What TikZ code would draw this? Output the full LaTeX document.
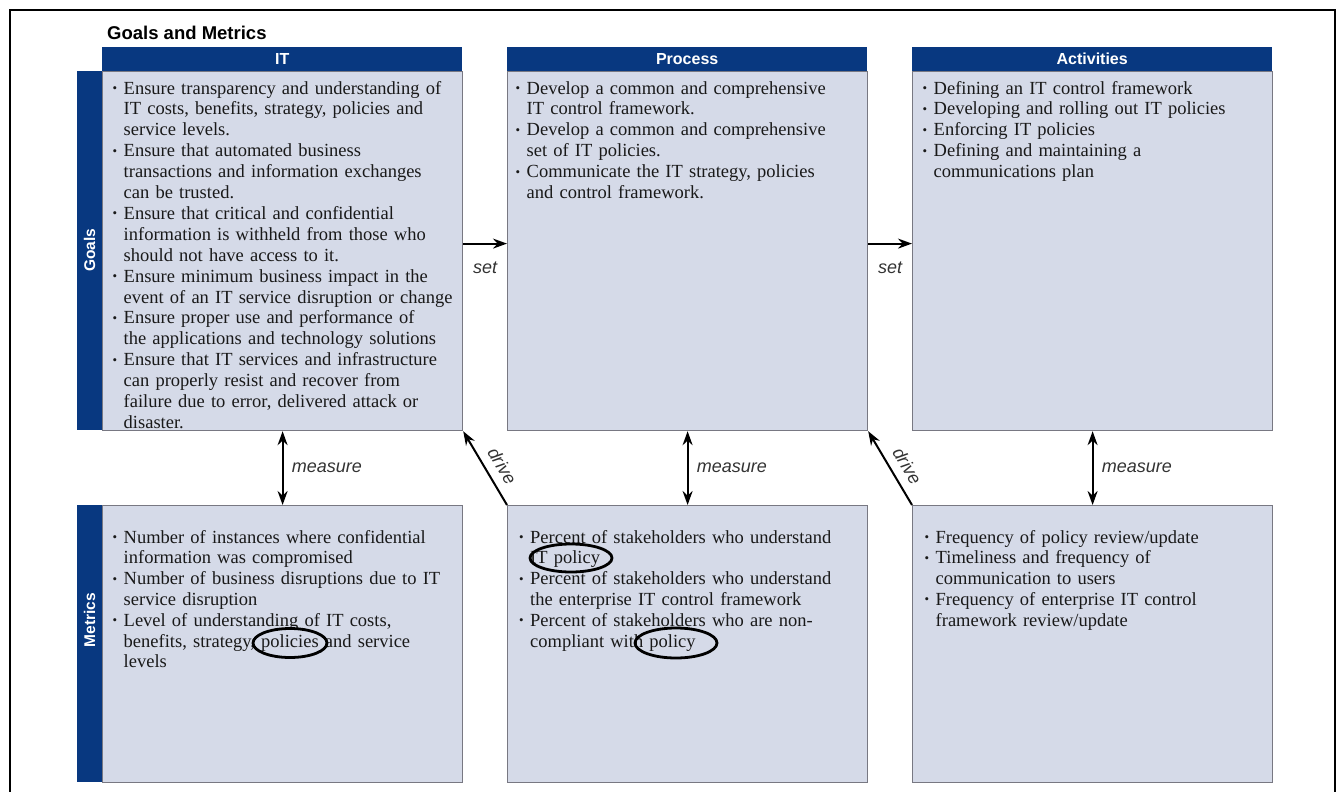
\documentclass[tikz,border=0pt]{standalone}
\usepackage{fontspec}
\setmainfont{Liberation Serif}
\setsansfont{Liberation Sans}
\usepackage{xcolor}
\usetikzlibrary{arrows.meta}

\definecolor{hdrblue}{RGB}{8,56,128}
\definecolor{cardfill}{RGB}{213,218,232}
\definecolor{cardline}{RGB}{120,120,130}

% bullet with hanging indent
\newcommand{\bitem}{\par\hangindent=11pt\hangafter=1\noindent\hbox to 11pt{\raisebox{1.6pt}{\scalebox{0.7}{\textbullet}}\hfil}}

\tikzset{
	card/.style={draw=cardline, line width=1.2pt, fill=cardfill, anchor=north west, minimum width=360pt, inner sep=0},
	hdr/.style={fill=hdrblue, anchor=north west, minimum width=360pt, minimum height=24pt, inner sep=0, text=white, font=\sffamily\bfseries\fontsize{16}{16}\selectfont},
	sidebar/.style={fill=hdrblue, anchor=north west, minimum width=25pt, inner sep=0},
	barlbl/.style={rotate=90, text=white, font=\sffamily\bfseries\fontsize{15.5}{15.5}\selectfont},
	blist/.style={anchor=north west, inner sep=0, text width=352pt, align=left, text=black!90, font=\fontsize{18.5}{20.9}\selectfont},
	mlist/.style={blist, font=\fontsize{18.5}{20.8}\selectfont},
	arr/.style={line width=2pt, -{Stealth[length=14pt,width=10pt]}},
	arrtwo/.style={line width=2pt, {Stealth[length=14pt,width=10pt]}-{Stealth[length=14pt,width=10pt]}},
	lbl/.style={font=\sffamily\itshape\fontsize{18}{18}\selectfont, text=black!80},
	ring/.style={draw, line width=2.8pt}
}

\begin{document}
\begin{tikzpicture}[x=1pt, y=-1pt]
	\useasboundingbox (0,0) rectangle (1338,792);
	
	% frame and title
	\draw[line width=2pt] (10,810) -- (10,10) -- (1335,10) -- (1335,810);
	\node[anchor=west, inner sep=0, font=\sffamily\bfseries\fontsize{18.5}{18.5}\selectfont] (title) at (107,33) {Goals and Metrics};
	
	% boxes of the three columns
	\foreach \n/\x/\t in {it/102/IT, pr/507/Process, ac/912/Activities} {
		\node[card, minimum height=359pt] (\n G) at (\x,71) {};
		\node[card, minimum height=277pt] (\n M) at (\x,505) {};
		\node[hdr] (\n H) at (\x,47) {\t};
	}
	
	% side bars
	\node[sidebar, minimum height=359pt] (gbar) at (77,71) {};
	\node[sidebar, minimum height=277pt] (mbar) at (77,505) {};
	\node[barlbl] (glbl) at (89.5,250) {Goals};
	\node[barlbl] (mlbl) at (89.5,620) {Metrics};
	
	% goals
	\node[blist] (itGt) at (112.5,73) {%
		\bitem Ensure transparency and understanding of\newline IT costs, benefits, strategy, policies and\newline service levels.
		\bitem Ensure that automated business\newline transactions and information exchanges\newline can be trusted.
		\bitem Ensure that critical and confidential\newline information is withheld from those who\newline should not have access to it.
		\bitem Ensure minimum business impact in the\newline event of an IT service disruption or change
		\bitem Ensure proper use and performance of\newline the applications and technology solutions
		\bitem Ensure that IT services and infrastructure\newline can properly resist and recover from\newline failure due to error, delivered attack or\newline disaster.\par};
	\node[blist] (prGt) at (515.5,73) {%
		\bitem Develop a common and comprehensive\newline IT control framework.
		\bitem Develop a common and comprehensive\newline set of IT policies.
		\bitem Communicate the IT strategy, policies\newline and control framework.\par};
	\node[blist] (acGt) at (922.5,73) {%
		\bitem Defining an IT control framework
		\bitem Developing and rolling out IT policies
		\bitem Enforcing IT policies
		\bitem Defining and maintaining a\newline communications plan\par};
	
	% metrics
	\node[mlist] (itMt) at (112.5,522) {%
		\bitem Number of instances where confidential\newline information was compromised
		\bitem Number of business disruptions due to IT\newline service disruption
		\bitem Level of understanding of IT costs,\newline benefits, strategy, policies and service\newline levels\par};
	\node[mlist] (prMt) at (519,522) {%
		\bitem Percent of stakeholders who understand\newline IT policy
		\bitem Percent of stakeholders who understand\newline the enterprise IT control framework
		\bitem Percent of stakeholders who are non-\newline compliant with policy\par};
	\node[mlist] (acMt) at (924.5,522) {%
		\bitem Frequency of policy review/update
		\bitem Timeliness and frequency of\newline communication to users
		\bitem Frequency of enterprise IT control\newline framework review/update\par};
	
	% rings round the policy words
	\draw[ring] (290,643) ellipse [x radius=37pt, y radius=14.5pt];
	\draw[ring] (571,558) ellipse [x radius=41pt, y radius=14pt];
	\draw[ring] (676,643) ellipse [x radius=41pt, y radius=15pt];
	
	% set
	\draw[arr] ([yshift=7.5pt]itG.east) -- ([yshift=7.5pt]prG.west) node[lbl, midway, below=14pt] (set1) {set};
	\draw[arr] ([yshift=7.5pt]prG.east) -- ([yshift=7.5pt]acG.west) node[lbl, midway, below=14pt] (set2) {set};
	
	% measure
	\draw[arrtwo] (itG.south) -- (itM.north) node[lbl, midway, right=5pt] (ms1) {measure};
	\draw[arrtwo] (prG.south) -- (prM.north) node[lbl, midway, right=5pt] (ms2) {measure};
	\draw[arrtwo] (acG.south) -- (acM.north) node[lbl, midway, right=5pt] (ms3) {measure};
	
	% drive
	\draw[arr] (prM.north west) -- (itG.south east) node[lbl, pos=0.42, sloped, above=5pt] (dr1) {drive};
	\draw[arr] (acM.north west) -- (prG.south east) node[lbl, pos=0.42, sloped, above=5pt] (dr2) {drive};
	
\end{tikzpicture}
\end{document}
